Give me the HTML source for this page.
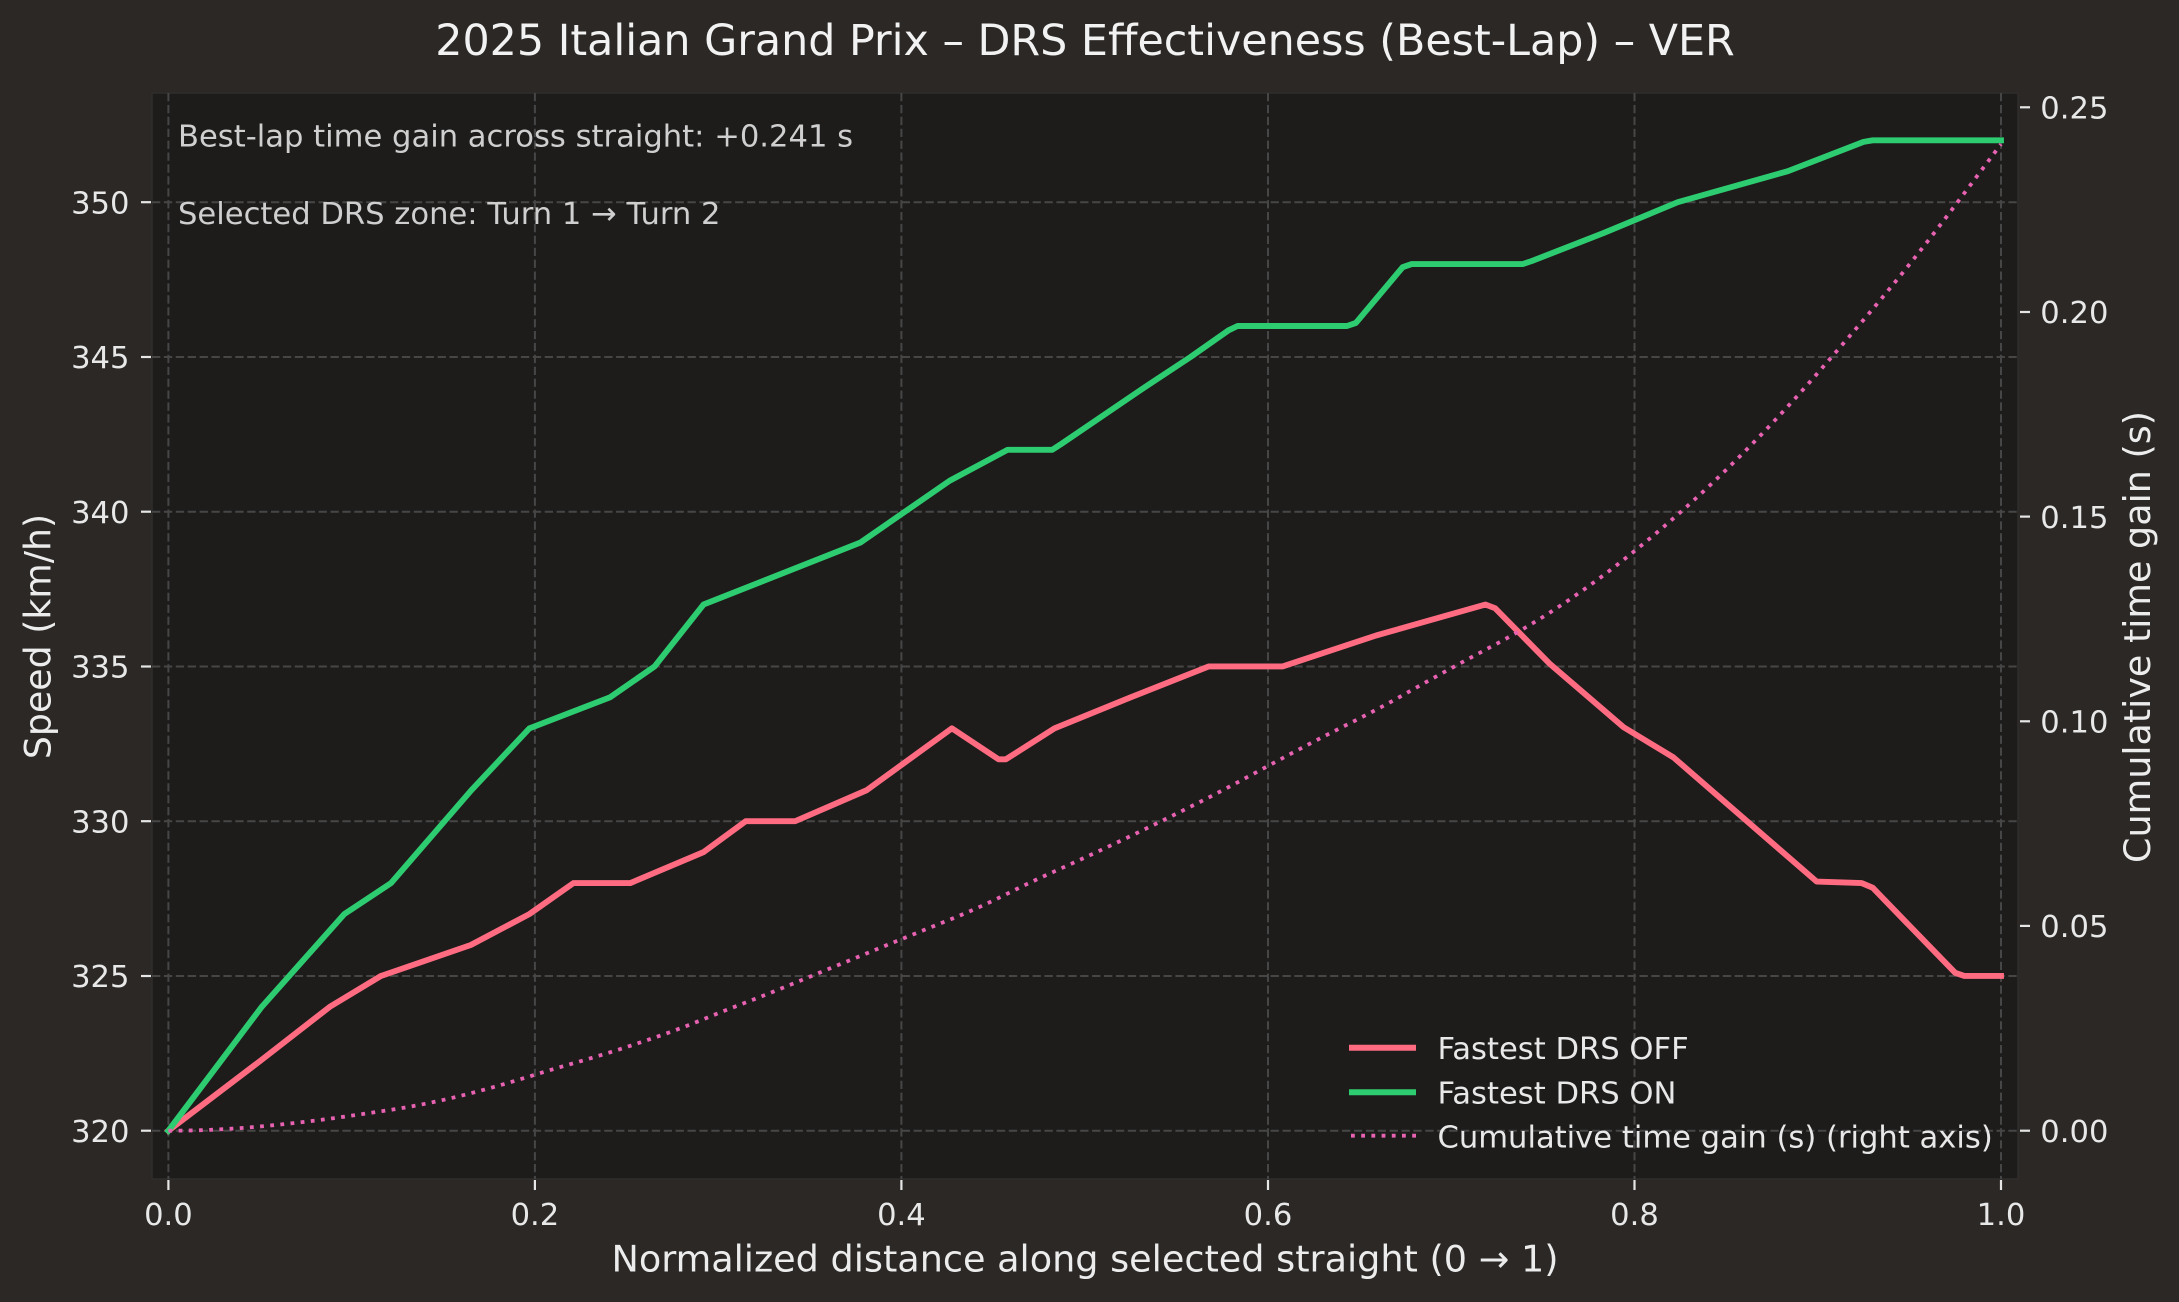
<!DOCTYPE html>
<html>
<head>
<meta charset="utf-8">
<style>
  html, body { margin:0; padding:0; background:#2b2826; }
  svg { display:block; }
  text { font-family: "DejaVu Sans", "Liberation Sans", sans-serif; }
</style>
</head>
<body>
<svg id="s" xmlns="http://www.w3.org/2000/svg" width="2179" height="1302" viewBox="0 0 2179 1302">
  <defs>
    <clipPath id="clip"><rect x="152" y="93" width="1866" height="1086"/></clipPath>
  </defs>
  <rect x="0" y="0" width="2179" height="1302" fill="#2b2826"/>
  <rect x="152" y="93" width="1866" height="1086" fill="#1d1c1b" stroke="#302d2c" stroke-width="1.5"/>

  <g stroke="#464646" stroke-width="2" stroke-dasharray="8.3 3.6" fill="none">
    <line x1="168.4" y1="93" x2="168.4" y2="1179"/>
    <line x1="534.9" y1="93" x2="534.9" y2="1179"/>
    <line x1="901.4" y1="93" x2="901.4" y2="1179"/>
    <line x1="1268" y1="93" x2="1268" y2="1179"/>
    <line x1="1634.5" y1="93" x2="1634.5" y2="1179"/>
    <line x1="2001" y1="93" x2="2001" y2="1179"/>
    <line x1="152" y1="202.2" x2="2018" y2="202.2"/>
    <line x1="152" y1="357" x2="2018" y2="357"/>
    <line x1="152" y1="511.7" x2="2018" y2="511.7"/>
    <line x1="152" y1="666.5" x2="2018" y2="666.5"/>
    <line x1="152" y1="821.2" x2="2018" y2="821.2"/>
    <line x1="152" y1="976" x2="2018" y2="976"/>
    <line x1="152" y1="1130.7" x2="2018" y2="1130.7"/>
  </g>

  <g clip-path="url(#clip)" fill="none">
    <path id="off" stroke="#ff6b81" stroke-width="5.9" stroke-linejoin="round" stroke-linecap="square"/>
    <path id="on" stroke="#2ecc71" stroke-width="5.9" stroke-linejoin="round" stroke-linecap="square"/>
    <path id="gain" stroke="#e862b2" stroke-width="3.8" stroke-dasharray="3.8 6.4" stroke-linecap="butt"/>
  </g>

  <g stroke="#e6e6e6" stroke-width="2.2">
    <line x1="141" y1="202.2" x2="151" y2="202.2"/>
    <line x1="141" y1="357" x2="151" y2="357"/>
    <line x1="141" y1="511.7" x2="151" y2="511.7"/>
    <line x1="141" y1="666.5" x2="151" y2="666.5"/>
    <line x1="141" y1="821.2" x2="151" y2="821.2"/>
    <line x1="141" y1="976" x2="151" y2="976"/>
    <line x1="141" y1="1130.7" x2="151" y2="1130.7"/>

    <line x1="2020" y1="107.3" x2="2030" y2="107.3"/>
    <line x1="2020" y1="312" x2="2030" y2="312"/>
    <line x1="2020" y1="516.6" x2="2030" y2="516.6"/>
    <line x1="2020" y1="721.3" x2="2030" y2="721.3"/>
    <line x1="2020" y1="925.9" x2="2030" y2="925.9"/>
    <line x1="2020" y1="1130.7" x2="2030" y2="1130.7"/>

    <line x1="168.4" y1="1180" x2="168.4" y2="1190"/>
    <line x1="534.9" y1="1180" x2="534.9" y2="1190"/>
    <line x1="901.4" y1="1180" x2="901.4" y2="1190"/>
    <line x1="1268" y1="1180" x2="1268" y2="1190"/>
    <line x1="1634.5" y1="1180" x2="1634.5" y2="1190"/>
    <line x1="2001" y1="1180" x2="2001" y2="1190"/>
  </g>

  <g fill="#e8e8e8" font-size="30.6" text-anchor="end">
    <text x="129.5" y="213.4">350</text>
    <text x="129.5" y="368.1">345</text>
    <text x="129.5" y="522.9">340</text>
    <text x="129.5" y="677.6">335</text>
    <text x="129.5" y="832.4">330</text>
    <text x="129.5" y="987.1">325</text>
    <text x="129.5" y="1141.9">320</text>
  </g>
  <g fill="#e8e8e8" font-size="30.6" text-anchor="start">
    <text x="2040.3" y="118.5">0.25</text>
    <text x="2040.3" y="323.1">0.20</text>
    <text x="2040.3" y="527.8">0.15</text>
    <text x="2040.3" y="732.4">0.10</text>
    <text x="2040.3" y="937.1">0.05</text>
    <text x="2040.3" y="1141.9">0.00</text>
  </g>
  <g fill="#e8e8e8" font-size="30.6" text-anchor="middle">
    <text x="168.4" y="1225">0.0</text>
    <text x="534.9" y="1225">0.2</text>
    <text x="901.4" y="1225">0.4</text>
    <text x="1268" y="1225">0.6</text>
    <text x="1634.5" y="1225">0.8</text>
    <text x="2001" y="1225">1.0</text>
  </g>

  <text x="1085" y="1271.5" fill="#ececec" font-size="36.6" text-anchor="middle">Normalized distance along selected straight (0 → 1)</text>
  <text transform="translate(50.7,636.5) rotate(-90)" fill="#ececec" font-size="36.3" text-anchor="middle">Speed (km/h)</text>
  <text transform="translate(2150,637) rotate(-90)" fill="#ececec" font-size="36.5" text-anchor="middle">Cumulative time gain (s)</text>

  <text x="1085" y="55" fill="#f2f2f2" font-size="42.8" text-anchor="middle">2025 Italian Grand Prix – DRS Effectiveness (Best-Lap) – VER</text>

  <text x="178" y="146.5" fill="#cfcfcf" font-size="30.6">Best-lap time gain across straight: +0.241 s</text>
  <text x="178" y="224" fill="#cfcfcf" font-size="30.6">Selected DRS zone: Turn 1 → Turn 2</text>

  <line x1="1349" y1="1047.7" x2="1416" y2="1047.7" stroke="#ff6b81" stroke-width="6"/>
  <line x1="1349" y1="1092.3" x2="1416" y2="1092.3" stroke="#2ecc71" stroke-width="6"/>
  <line x1="1351" y1="1135.7" x2="1416" y2="1135.7" stroke="#e862b2" stroke-width="3.8" stroke-dasharray="3.8 6.4"/>
  <g fill="#e8e8e8" font-size="30.6">
    <text x="1437.5" y="1059">Fastest DRS OFF</text>
    <text x="1437.5" y="1103.3">Fastest DRS ON</text>
    <text x="1437.5" y="1147.6">Cumulative time gain (s) (right axis)</text>
  </g>
</svg>
<script>
(function(){
  var X=function(d){return 168.4+d*1832.6;};
  var YL=function(v){return 1130.7-(v-320)*30.95;};
  var YR=function(g){return 1130.7-g*4093.6;};
  var off=[[0,320],[0.05,322.25],[0.088,324],[0.116,325],[0.165,326],[0.197,327],[0.221,328],[0.252,328],[0.292,329],[0.315,330],[0.342,330],[0.381,331],[0.4275,333],[0.453,332],[0.457,332],[0.4835,333],[0.525,334],[0.5676,335],[0.608,335],[0.659,336],[0.7186,337],[0.724,336.88],[0.7535,335.1],[0.794,333.04],[0.8213,332.06],[0.8994,328.05],[0.924,328],[0.93,327.85],[0.975,325.1],[0.98,325],[1,325]];
  var on=[[0,320],[0.0509,324],[0.096,327],[0.1215,328],[0.1653,331],[0.197,333],[0.2409,334],[0.2653,335],[0.292,337],[0.3775,339],[0.4263,341],[0.4579,342],[0.4823,342],[0.4875,342.2],[0.5322,344],[0.5578,345],[0.5785,345.86],[0.5834,346],[0.6431,346],[0.648,346.1],[0.6735,347.9],[0.6784,348],[0.739,348],[0.744,348.1],[0.783,349],[0.8236,350],[0.8836,351],[0.925,351.95],[0.93,352],[1,352]];
  function path(a){
    var s='';
    for(var i=0;i<a.length;i++){s+=(i?'L':'M')+X(a[i][0]).toFixed(2)+' '+YL(a[i][1]).toFixed(2);}
    return s;
  }
  function interp(a,d){
    for(var i=1;i<a.length;i++){
      if(d<=a[i][0]){var x0=a[i-1][0],y0=a[i-1][1],x1=a[i][0],y1=a[i][1];return y0+(y1-y0)*(d-x0)/(x1-x0);}
    }
    return a[a.length-1][1];
  }
  document.getElementById('off').setAttribute('d',path(off));
  document.getElementById('on').setAttribute('d',path(on));
  var N=400, cum=[0], c=0;
  for(var i=1;i<=N;i++){
    var d0=(i-1)/N, d1=i/N;
    var f0=1/interp(off,d0)-1/interp(on,d0);
    var f1=1/interp(off,d1)-1/interp(on,d1);
    c+=(f0+f1)/2/N;
    cum.push(c);
  }
  var k=0.241/c, s='';
  for(var j=0;j<=N;j++){
    s+=(j?'L':'M')+X(j/N).toFixed(2)+' '+YR(cum[j]*k).toFixed(2);
  }
  document.getElementById('gain').setAttribute('d',s);
})();
</script>
</body>
</html>
